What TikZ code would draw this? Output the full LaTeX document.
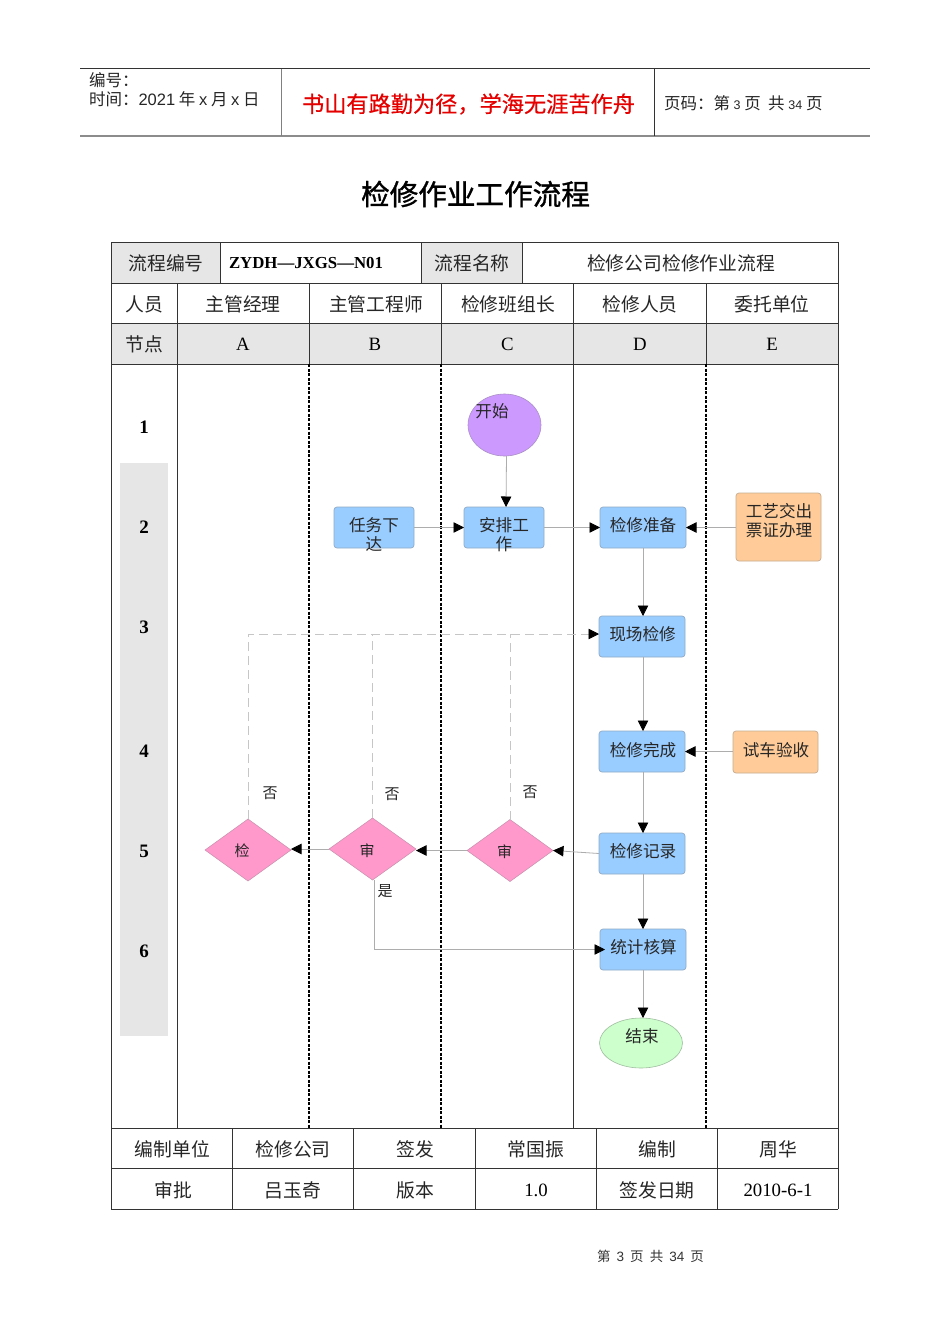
\documentclass[tikz,border=0pt]{standalone}
\usepackage{fontspec}
\setmainfont{Liberation Serif}
\newfontfamily\cjk{Noto Sans CJK SC}
\newfontfamily\cjktitle[FakeBold=1.2]{Noto Sans CJK SC}
\newfontfamily\cjkmotto[FakeBold=0.6]{Noto Sans CJK SC}
\newfontfamily\lsans{Liberation Sans}
\usetikzlibrary{arrows.meta,shapes.geometric}
\definecolor{gridc}{HTML}{333333}
\definecolor{greyfill}{HTML}{E6E6E6}
\definecolor{blueb}{HTML}{99CCFF}
\definecolor{orangeb}{HTML}{FFCC99}
\definecolor{pinkd}{HTML}{FF99CC}
\definecolor{purplee}{HTML}{CC99FF}
\definecolor{greene}{HTML}{CCFFCC}
\definecolor{conn}{HTML}{ADADAD}
\newcommand{\fs}[1]{\fontsize{#1}{#1}\selectfont}
\tikzset{
  x=1pt,y=-1pt,
  every node/.style={inner sep=0pt,outer sep=0pt},
  tline/.style={draw=gridc,line width=0.9pt},
  solidlane/.style={draw=gridc,line width=1pt},
  dashlane/.style={draw=black,line width=1.9pt,dash pattern=on 3pt off 1.5pt},
  tcell/.style={font=\cjk\fs{18.8},text=black!85},
  tser/.style={font=\fs{18.8},text=black},
  numc/.style={font=\bfseries\fs{19},text=black},
  flowtxt/.style={font=\cjk\fs{16.6},text=black!85,align=center},
  smalltxt/.style={font=\cjk\fs{15},text=black!85},
  headtxt/.style={font=\cjk\fs{16.5},text=black!85,anchor=west},
  fbox/.style={rectangle,rounded corners=3pt,draw=#1,line width=0.7pt},
  bluebox/.style={fbox=blueb!70!black!75,fill=blueb},
  orangebox/.style={fbox=orangeb!70!black!75,fill=orangeb},
  dia/.style={diamond,aspect=1.39,fill=pinkd,draw=pinkd!70!black!75,line width=0.5pt,inner sep=0pt},
  ell/.style={ellipse,line width=0.6pt},
  link/.style={draw=conn,line width=0.8pt,-{Triangle[length=10.5pt,width=10.5pt,fill=black,color=black]}},
  backlink/.style={draw=conn!70,line width=0.8pt,dash pattern=on 9pt off 5pt},
  backarrow/.style={backlink,-{Triangle[length=10.5pt,width=10.5pt,fill=black,color=black]}},
}
\begin{document}
\begin{tikzpicture}
\useasboundingbox (0,0) rectangle (950,1344);
\fill[white] (0,0) rectangle (950,1344);

% page header
\draw[draw=gridc,line width=1pt] (80,68.5) -- (870,68.5);
\draw[draw=black!45,line width=1.6pt] (80,136) -- (870,136);
\draw[draw=black!50,line width=1pt] (281,68.5) -- (281,136);
\draw[draw=gridc,line width=0.8pt] (654,68.5) -- (654,136);
\node[headtxt] (hNo) at (89,80) {编号：};
\node[headtxt] (hTime) at (89,99) {时间：{\lsans 2021} 年 {\lsans x} 月 {\lsans x} 日};
\node[font=\cjkmotto\fs{22.2},text=red!90!black] (hMotto) at (468.5,104) {书山有路勤为径，学海无涯苦作舟};
\node[headtxt] (hPage) at (664,103) {页码：第 {\lsans\fs{12.5}3} 页\ \ 共 {\lsans\fs{12.5}34} 页};
\node[font=\cjktitle\fs{28.6},text=black] (title) at (475.5,194) {检修作业工作流程};

% table shading
\fill[greyfill] (111,242) rectangle (220,283);
\fill[greyfill] (421,242) rectangle (522,283);
\fill[greyfill] (111,323) rectangle (838,364);
\fill[greyfill] (120,463) rectangle (168,1036);

% table rules
\foreach \yy in {242,283,323,364,1128,1168,1209} \draw[tline] (111,\yy) -- (838,\yy);
\draw[tline] (111,242) -- (111,1209);
\draw[tline] (838,242) -- (838,1209);
\foreach \xx in {220,421,522} \draw[tline] (\xx,242) -- (\xx,283);
\foreach \xx in {177,309,441,573,706} \draw[tline] (\xx,283) -- (\xx,364);
\foreach \xx in {232,353,475,596,717} \draw[tline] (\xx,1128) -- (\xx,1209);
% lanes
\draw[solidlane] (177,364) -- (177,1128);
\draw[dashlane] (309,364) -- (309,1128);
\draw[dashlane] (441,364) -- (441,1128);
\draw[solidlane] (573.5,364) -- (573.5,1128);
\draw[dashlane] (706,364) -- (706,1128);

% table text
\node[tcell] (c11) at (166,263.5) {流程编号};
\node[font=\bfseries\fs{16.8},anchor=west] (c12) at (229,263) {ZYDH—JXGS—N01};
\node[tcell] (c13) at (472,263.5) {流程名称};
\node[tcell] (c14) at (681,263.5) {检修公司检修作业流程};
\node[tcell] (c21) at (144,304) {人员};
\node[tcell] (c22) at (243,304) {主管经理};
\node[tcell] (c23) at (376,304) {主管工程师};
\node[tcell] (c24) at (508,304) {检修班组长};
\node[tcell] (c25) at (640,304) {检修人员};
\node[tcell] (c26) at (772,304) {委托单位};
\node[tcell] (c31) at (144.5,344.5) {节点};
\node[tser] (c32) at (243,344) {A};
\node[tser] (c33) at (375,344) {B};
\node[tser] (c34) at (507.5,344) {C};
\node[tser] (c35) at (640,344) {D};
\node[tser] (c36) at (772,344) {E};
\node[numc] (n1) at (144,427) {1};
\node[numc] (n2) at (144,527) {2};
\node[numc] (n3) at (144,627) {3};
\node[numc] (n4) at (144,751) {4};
\node[numc] (n5) at (144,851) {5};
\node[numc] (n6) at (144,951) {6};
\node[tcell] (f11) at (172.5,1149.5) {编制单位};
\node[tcell] (f12) at (293,1149.5) {检修公司};
\node[tcell] (f13) at (415,1149.5) {签发};
\node[tcell] (f14) at (536,1149.5) {常国振};
\node[tcell] (f15) at (657,1149.5) {编制};
\node[tcell] (f16) at (778,1149.5) {周华};
\node[tcell] (f21) at (173,1190.5) {审批};
\node[tcell] (f22) at (293,1190.5) {吕玉奇};
\node[tcell] (f23) at (415,1190.5) {版本};
\node[tser] (f24) at (536,1190) {1.0};
\node[tcell] (f25) at (657,1190.5) {签发日期};
\node[tser] (f26) at (778,1190) {2010-6-1};

% flow shapes
\node[ell,draw=purplee!70!black!75,fill=purplee,minimum width=73pt,minimum height=62pt] (start) at (504.5,425) {};
\node[bluebox,minimum width=80pt,minimum height=41pt] (task) at (374,527.5) {};
\node[bluebox,minimum width=80pt,minimum height=41pt] (plan) at (504,527.5) {};
\node[bluebox,minimum width=86pt,minimum height=41pt] (prep) at (643,527.5) {};
\node[orangebox,minimum width=85pt,minimum height=68pt] (ticket) at (778.5,527) {};
\node[bluebox,minimum width=86pt,minimum height=41pt] (site) at (642,636.5) {};
\node[bluebox,minimum width=86pt,minimum height=41pt] (done) at (642,751.5) {};
\node[orangebox,minimum width=85pt,minimum height=42pt] (trial) at (775.5,752) {};
\node[bluebox,minimum width=86pt,minimum height=41pt] (rec) at (642,853.5) {};
\node[bluebox,minimum width=86pt,minimum height=41pt] (calc) at (643,949.5) {};
\node[ell,draw=greene!70!black!85,fill=greene,minimum width=83pt,minimum height=50pt] (finish) at (641,1043) {};
\node[dia,minimum width=86pt,minimum height=62pt] (dA) at (248,850) {};
\node[dia,minimum width=87pt,minimum height=62pt] (dB) at (372.5,849) {};
\node[dia,minimum width=86pt,minimum height=62pt] (dC) at (510,850.5) {};

% flow text
\node[flowtxt] (tStart) at (492,411) {开始};
\node[flowtxt] (tTask1) at (374,525) {任务下};
\node[flowtxt] (tTask2) at (374,544) {达};
\node[flowtxt] (tPlan1) at (504,525) {安排工};
\node[flowtxt] (tPlan2) at (504,544) {作};
\node[flowtxt] (tPrep) at (643,525) {检修准备};
\node[flowtxt] (tTick1) at (779,511) {工艺交出};
\node[flowtxt] (tTick2) at (779,530.5) {票证办理};
\node[flowtxt] (tSite) at (642.5,634) {现场检修};
\node[flowtxt] (tDone) at (643,750) {检修完成};
\node[flowtxt] (tTrial) at (776,750) {试车验收};
\node[flowtxt] (tRec) at (643,851) {检修记录};
\node[flowtxt] (tCalc) at (643.5,947) {统计核算};
\node[flowtxt] (tEnd) at (642,1036) {结束};
\node[smalltxt] (tdA) at (242,851) {检};
\node[smalltxt] (tdB) at (367,851) {审};
\node[smalltxt] (tdC) at (504.5,852) {审};
\node[smalltxt] (no1) at (270,793) {否};
\node[smalltxt] (no2) at (392,794) {否};
\node[smalltxt] (no3) at (530,792) {否};
\node[smalltxt] (yes) at (385,891) {是};

% connectors
\draw[link] ([xshift=2pt]start.south) -- ([xshift=2pt]plan.north);
\draw[link] (task.east) -- (plan.west);
\draw[link] (plan.east) -- (prep.west);
\draw[link] (ticket.west |- prep.east) -- (prep.east);
\draw[link] (prep.south) -- (prep.south |- site.north);
\draw[link] (prep.south |- site.south) -- (prep.south |- done.north);
\draw[link] (trial.west |- done.east) -- (done.east);
\draw[link] (prep.south |- done.south) -- (prep.south |- rec.north);
\draw[link] (prep.south |- rec.south) -- (prep.south |- calc.north);
\draw[link] (calc.south) -- (calc.south |- finish.north);
\draw[link] (rec.west) -- (dC.east);
\draw[link] (dC.west) -- (dC.west -| dB.east);
\draw[link] (dB.west) -- (dB.west -| dA.east);
\draw[link] ([xshift=1.5pt]dB.south) |- ([xshift=5pt]calc.west);
\coordinate (backLevel) at ([yshift=2.5pt]site.west);
\coordinate (backTurn) at (dA.north |- backLevel);
\draw[backarrow] (dA.north) -- (backTurn) -- (backLevel);
\draw[backlink] (dB.north) -- (dB.north |- backLevel);
\draw[backlink] (dC.north) -- (dC.north |- backLevel);

% page footer
\node[font=\cjk\fs{13.5},text=black!80] (pageNo) at (650.5,1256) {第\ \ {\lsans 3}\ \ 页\ \ 共\ \ {\lsans 34}\ \ 页};
\end{tikzpicture}
\end{document}
